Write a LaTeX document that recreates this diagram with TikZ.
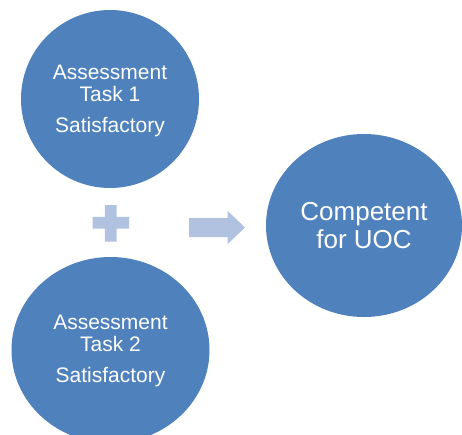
\documentclass[tikz,border=0pt]{standalone}
\usepackage{fontspec}
\setmainfont{Liberation Sans}
\usetikzlibrary{shapes.geometric}
\definecolor{blob}{HTML}{4F81BD}
\definecolor{light}{HTML}{B0C2DF}
\begin{document}
\begin{tikzpicture}[x=1pt,y=-1pt,
  blobnode/.style={ellipse,fill=blob,draw=none,inner sep=0pt,text=white,align=center},
  smalltext/.style={font=\fontsize{21}{22}\selectfont},
  bigtext/.style={font=\fontsize{26}{27.6}\selectfont}]
\clip (0,0) rectangle (462,434);
\fill[white] (0,0) rectangle (462,434);
\node[blobnode,minimum width=178pt,minimum height=178pt] (t1) at (110,99) {};
\node[text=white,align=center,smalltext] (l1) at ([yshift=-2pt]t1.center) {Assessment\\Task 1\\[8.5pt]Satisfactory};
\node[blobnode,minimum width=198pt,minimum height=186pt] (t2) at (110.5,350) {};
\node[text=white,align=center,smalltext] (l2) at ([yshift=-1pt]t2.center) {Assessment\\Task 2\\[8.5pt]Satisfactory};
\node[blobnode,minimum width=196pt,minimum height=183pt] (uoc) at (364,225.5) {};
\node[text=white,align=center,bigtext] (l3) at (uoc.center) {Competent\\for UOC};
% plus sign
\fill[light] (104.9,205) -- (116.7,205) -- (116.7,216.9) -- (129,216.9) -- (129,228.7)
  -- (116.7,228.7) -- (116.7,241.7) -- (104.9,241.7) -- (104.9,228.7) -- (92.7,228.7)
  -- (92.7,216.9) -- (104.9,216.9) -- cycle;
% arrow
\fill[light] (189,218) -- (227.7,218) -- (227.7,211) -- (245,227.5) -- (227.7,244)
  -- (227.7,237) -- (189,237) -- cycle;
\end{tikzpicture}
\end{document}
